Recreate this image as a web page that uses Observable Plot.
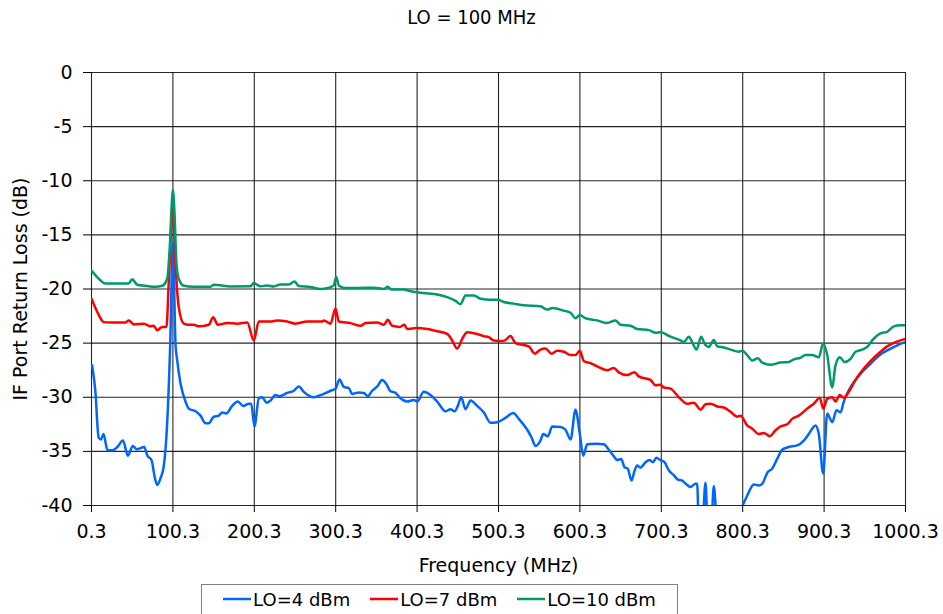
<!DOCTYPE html>
<html>
<head>
<meta charset="utf-8">
<script src="https://cdn.jsdelivr.net/npm/d3@7"></script>
<script src="https://cdn.jsdelivr.net/npm/@observablehq/plot@0.6"></script>
<style>
  html, body { margin: 0; padding: 0; background: #fff; overflow: hidden; }
  body { width: 943px; height: 614px; position: relative; font-family: "DejaVu Sans", Verdana, sans-serif; color: #000; }
  #title { height: 34px; line-height: 34px; text-align: center; font-family: "DejaVu Sans Condensed", "DejaVu Sans", sans-serif; font-stretch: condensed; font-size: 20px; }
  #chart svg { display: block; }
  #legend { position: absolute; left: 201px; top: 584px; width: 477px; height: 34px; box-sizing: border-box; border: 1px solid #808080; display: flex; justify-content: center; align-items: flex-start; padding-top: 3px; gap: 20px; font-size: 18px; }
  .item { display: flex; align-items: center; height: 22px; }
  .item span { margin-left: 2px; white-space: nowrap; }
</style>
</head>
<body>
<div id="title">LO = 100 MHz</div>
<div id="chart"></div>
<div id="legend"></div>
<script>
const title = "LO = 100 MHz";
const xLabel = "Frequency (MHz)";
const yLabel = "IF Port Return Loss (dB)";
const xTicks = [0.3, 100.3, 200.3, 300.3, 400.3, 500.3, 600.3, 700.3, 800.3, 900.3, 1000.3];
const yTicks = [0, -5, -10, -15, -20, -25, -30, -35, -40];
const seriesNames = ["LO=4 dBm", "LO=7 dBm", "LO=10 dBm"];
const seriesColors = ["#0066ff", "#ff0000", "#00996b"];

// LO=4 dBm: [frequency MHz, return loss dB]
const lo4 = [[1,-27.05],[5,-29.4],[9,-33.7],[12,-33.9],[15,-33.4],[20,-34.9],[26,-34.9],[32,-34.6],[39,-34.0],[45,-35.4],[51,-34.5],[56,-34.8],[65,-34.6],[69,-35.4],[74,-35.8],[78,-37.4],[81,-38.1],[85,-37.5],[89,-36.4],[93,-32.75],[97,-25.1],[100.3,-15.7],[103.5,-25.1],[105.6,-26.6],[109.6,-28.7],[115.8,-30.4],[119.8,-31.05],[128.1,-31.3],[134.2,-31.7],[140.3,-32.4],[144.4,-32.4],[150.5,-31.8],[156.7,-31.7],[160.9,-31.4],[165.8,-31.5],[173.1,-30.8],[180,-30.4],[186.7,-30.8],[193.5,-30.6],[196.5,-30.6],[200.5,-32.7],[205.8,-30.1],[210,-30.0],[215.3,-30.5],[220.2,-30.3],[226.3,-29.8],[231.3,-29.9],[240.7,-29.6],[248.8,-29.4],[255,-29.0],[261.1,-29.5],[273.4,-30.0],[281.6,-29.8],[293.9,-29.4],[300.1,-29.2],[305,-28.35],[310.3,-29.05],[316.4,-29.15],[320.6,-29.7],[328.7,-29.55],[334.8,-29.6],[339.7,-29.9],[345.1,-29.4],[351.3,-29.0],[357.4,-28.4],[362.7,-28.8],[367.6,-29.45],[373.8,-29.6],[379.9,-30.1],[388.1,-30.4],[396.3,-30.25],[400.4,-30.4],[408.5,-29.5],[416.8,-29.8],[425,-30.4],[435.2,-31.3],[441.3,-31.1],[446.2,-31.3],[450.3,-30.8],[454.5,-30.0],[459.8,-31.1],[465.9,-30.3],[474.1,-30.8],[482.2,-31.4],[490.5,-32.35],[498.7,-32.3],[508.9,-31.9],[518.4,-31.45],[525.3,-32.0],[535.6,-33.0],[540.8,-33.7],[545.8,-34.5],[551.9,-34.0],[555.2,-33.4],[560.9,-33.6],[566.3,-32.7],[576.5,-32.75],[582.6,-33.0],[588.8,-33.9],[594.9,-31.15],[600.2,-33.4],[604.4,-35.4],[609.3,-34.35],[619.5,-34.3],[629.7,-34.35],[635.8,-34.85],[642,-35.45],[646.1,-35.8],[651,-35.7],[655.1,-36.45],[659.1,-36.6],[663.7,-37.7],[667.4,-36.8],[670.7,-36.3],[674.7,-36.5],[680.9,-36.0],[685.8,-35.8],[689.9,-36.0],[694.4,-35.6],[699.3,-35.8],[704.2,-36.0],[709.5,-36.75],[715.6,-37.2],[720.6,-37.6],[725.9,-37.7],[732.1,-38.1],[736.1,-38.3],[742.3,-38.0],[744.4,-38.0],[746.4,-42],[750.5,-42],[754.6,-37.9],[757.4,-42],[761.6,-42],[764.8,-38.2],[769,-42],[779,-43],[791,-42],[799.7,-40.1],[805.8,-39.1],[813.9,-38.05],[820,-38.15],[824.2,-38.0],[831.1,-36.9],[836.5,-36.6],[842.6,-35.7],[848.8,-34.85],[856.9,-34.6],[867.2,-34.45],[875.4,-34.0],[881.5,-33.4],[885.7,-32.9],[889.7,-32.6],[893.8,-33.4],[899.2,-37.05],[904.1,-31.5],[910.3,-32.3],[915.5,-31.2],[920.5,-31.4],[924.5,-30.4],[930.6,-29.35],[938.9,-28.4],[949.1,-27.5],[959.4,-26.75],[969.6,-26.05],[979.8,-25.6],[990.1,-25.2],[1000.3,-24.9]];

// LO=7 dBm
const lo7 = [[0.3,-20.9],[7.3,-22.1],[15.4,-23.06],[23.6,-23.1],[42.1,-23.1],[46.1,-22.9],[52.3,-23.27],[64.6,-23.2],[72.8,-23.45],[76.8,-23.4],[81,-23.8],[87.2,-23.5],[92.4,-23.5],[95.3,-19.2],[100.3,-12.3],[103.5,-17.7],[107.5,-21.7],[113.7,-23.2],[119.5,-23.3],[126,-23.3],[132.1,-23.45],[144.4,-23.3],[149.8,-22.6],[155.5,-23.3],[167,-23.15],[179.3,-23.2],[191.6,-23.1],[199.7,-24.75],[205.8,-23.0],[220.2,-23.0],[228.4,-22.9],[240.7,-23.0],[250.9,-23.2],[265.3,-23.0],[283.7,-23.0],[285.7,-22.9],[293.9,-23.2],[300.1,-21.8],[304.1,-23.0],[318.5,-23.15],[330.8,-23.4],[336.9,-23.15],[351.3,-23.1],[359.4,-23.3],[364.3,-22.85],[369.7,-23.4],[379,-23.5],[384.8,-23.3],[388.1,-23.7],[399.6,-23.6],[412.7,-23.7],[425,-23.9],[437.3,-24.15],[443.4,-24.75],[449.6,-25.5],[455.7,-24.6],[461.8,-24.0],[474.1,-24.15],[482.2,-24.35],[488.4,-24.45],[494.5,-24.75],[506.8,-24.8],[515,-24.35],[521.2,-25.0],[537.5,-25.3],[544.9,-25.97],[551.9,-25.6],[558,-25.5],[565.4,-25.97],[572.4,-25.7],[580.5,-25.8],[588.8,-26.1],[594.9,-26.1],[600.2,-25.7],[605.1,-26.65],[613.3,-26.85],[621.5,-27.15],[633.8,-27.5],[641.9,-27.3],[648.1,-27.7],[658.4,-27.95],[667.4,-27.7],[672.6,-28.07],[687,-28.4],[693.2,-28.9],[699.3,-28.85],[703.4,-29.1],[711.6,-29.2],[721.8,-30.0],[732.1,-30.6],[740.3,-30.5],[748.5,-31.15],[754.6,-30.65],[760.8,-30.6],[769,-30.85],[777.1,-30.95],[785.4,-31.35],[793.6,-31.8],[797.6,-31.7],[805.8,-32.6],[812,-32.9],[820.1,-33.4],[826.2,-33.3],[833.6,-33.6],[840.6,-33.05],[846.7,-32.7],[855,-32.5],[861.1,-32.0],[869.2,-31.7],[879.5,-31.05],[887.6,-30.6],[895,-30.05],[899.2,-31.05],[904.1,-30.15],[910.3,-30.0],[914.3,-30.4],[919.6,-29.8],[924.5,-30.05],[930.6,-29.5],[938.9,-28.4],[949.1,-27.35],[959.4,-26.5],[969.6,-25.8],[977.8,-25.3],[988,-24.9],[1000.3,-24.6]];

// LO=10 dBm
const lo10 = [[0.3,-18.3],[7.3,-18.9],[17.5,-19.5],[45.8,-19.5],[50.3,-19.1],[56.4,-19.6],[66.6,-19.7],[78.9,-19.8],[87.2,-19.7],[93.3,-19.05],[96.5,-16.1],[99.4,-11.5],[100.3,-10.85],[102.3,-13.05],[104.7,-17.7],[107.5,-19.05],[113.7,-19.7],[125.6,-19.8],[146.5,-19.8],[150.2,-19.6],[171.1,-19.76],[195.6,-19.75],[199.7,-19.45],[207.9,-19.75],[216.1,-19.67],[224.3,-19.76],[232.5,-19.58],[242.7,-19.58],[249.7,-19.3],[255,-19.73],[269.4,-19.82],[281.6,-20.0],[291.8,-19.88],[297.9,-19.67],[300.9,-18.9],[304.1,-19.67],[312.3,-19.9],[326.7,-19.91],[347.1,-19.88],[359.4,-20.0],[364.3,-19.8],[368.5,-20.04],[384,-20.05],[392.2,-20.2],[399.6,-20.3],[408.5,-20.38],[425,-20.5],[437.3,-20.75],[447.5,-21.1],[453.6,-21.4],[459.8,-20.6],[470,-20.6],[478.2,-20.9],[490.5,-21.0],[499.9,-21.0],[506.8,-21.2],[519.1,-21.35],[531.4,-21.5],[551.9,-21.6],[560.1,-21.9],[566.3,-21.75],[580.5,-22.0],[588.8,-22.2],[594.9,-22.7],[600.2,-22.4],[607.2,-22.7],[621.5,-22.9],[633.8,-23.15],[644,-22.9],[650.1,-23.3],[662.4,-23.4],[670.7,-23.7],[685,-23.8],[693.2,-24.05],[699.3,-24.0],[711.6,-24.4],[723.9,-24.75],[728,-24.9],[734.1,-24.4],[738.2,-24.9],[743.5,-25.6],[749.3,-24.4],[753.4,-25.05],[758.6,-25.35],[764.8,-24.7],[769,-25.3],[777.1,-25.4],[785.4,-25.6],[795.5,-25.8],[799.7,-25.7],[805.8,-26.1],[812,-26.6],[818.9,-26.4],[824.2,-26.8],[834.5,-27.0],[846.7,-26.8],[856.9,-26.75],[863.1,-26.5],[871.3,-26.35],[877.4,-26.1],[885.7,-26.1],[893.8,-26.3],[899.2,-25.0],[904.1,-26.1],[910.3,-29.1],[914.3,-27.05],[919.6,-26.3],[925.4,-26.75],[932.7,-26.45],[938.9,-25.8],[947.1,-25.6],[953.3,-25.35],[959.4,-24.75],[969.6,-24.1],[977.8,-23.95],[986,-23.45],[994.2,-23.35],[1000.3,-23.35]];

const seriesData = [lo4, lo7, lo10];

document.getElementById("title").textContent = title;

const gridStyle = {stroke: "#000", strokeWidth: 1.1, strokeOpacity: 0.85};

const lineMarks = seriesData.map((s, i) =>
  Plot.line(s, {x: d => d[0], y: d => d[1], stroke: seriesColors[i], strokeWidth: 2.5, clip: true, curve: "monotone-x", strokeLinejoin: "round"})
);

const chart = Plot.plot({
  width: 943,
  height: 544,
  marginLeft: 91,
  marginRight: 38,
  marginTop: 38,
  marginBottom: 73,
  style: {fontFamily: "'DejaVu Sans', Verdana, sans-serif", fontSize: "19px", background: "#fff", color: "#000", overflow: "visible"},
  x: {domain: [0.3, 1000.3]},
  y: {domain: [-40, 0]},
  marks: [
    Plot.ruleX(xTicks, gridStyle),
    Plot.ruleY(yTicks, gridStyle),
    Plot.axisX({ticks: xTicks, tickFormat: d => d.toFixed(1), tickSize: 7, tickPadding: 12, label: null, fontSize: 19}),
    Plot.axisY({ticks: yTicks, tickFormat: d => String(d), tickSize: 8, tickPadding: 11, label: null, fontSize: 19}),
    ...lineMarks,
    Plot.text([xLabel], {text: d => d, frameAnchor: "bottom", textAnchor: "middle", dy: 66, fontSize: 19}),
    Plot.text([yLabel], {text: d => d, frameAnchor: "left", textAnchor: "middle", dx: -71, rotate: -90, fontSize: 19})
  ]
});
document.getElementById("chart").appendChild(chart);

const legend = document.getElementById("legend");
seriesNames.forEach((name, i) => {
  const item = document.createElement("div");
  item.className = "item";
  item.innerHTML = `<svg width="28" height="6"><line x1="0" x2="28" y1="3" y2="3" stroke="${seriesColors[i]}" stroke-width="2.5"/></svg><span>${name}</span>`;
  legend.appendChild(item);
});
</script>
</body>
</html>
